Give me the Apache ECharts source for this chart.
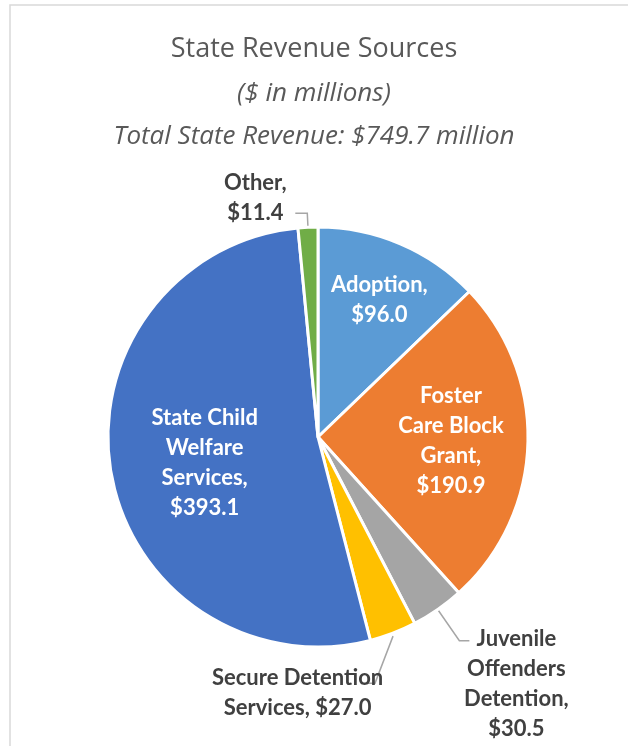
<!DOCTYPE html>
<html>
<head>
<meta charset="utf-8">
<script src="https://cdn.jsdelivr.net/npm/echarts@6/dist/echarts.min.js"></script>
<style>
html,body{margin:0;padding:0;background:#fff;}
#chart{width:628px;height:746px;}
</style>
</head>
<body>
<div id="chart"></div>
<script>
// Data
const categories = ['Adoption', 'Foster Care Block Grant', 'Juvenile Offenders Detention', 'Secure Detention Services', 'State Child Welfare Services', 'Other'];
const values = [96.0, 190.9, 30.5, 27.0, 393.1, 11.4];
const labelTexts = ['Adoption,\n$96.0', 'Foster\nCare Block\nGrant,\n$190.9', 'Juvenile\nOffenders\nDetention,\n$30.5', 'Secure Detention\nServices, $27.0', 'State Child\nWelfare\nServices,\n$393.1', 'Other,\n$11.4'];
const colors = ['#5B9BD5', '#ED7D31', '#A5A5A5', '#FFC000', '#4472C4', '#70AD47'];
const titleText = 'State Revenue Sources';
const subText1 = '($ in millions)';
const subText2 = 'Total State Revenue: $749.7 million';

const TFONT = 'Open Sans';
const LFONT = 'Lato';
const insideIdx = [0, 1, 4];
// label offsets (styling)
const labelAdjust = {
  0: {dx: 19, dy: -38},
  1: {dx: 25, dy: 0},
  4: {dx: -7, dy: 7},
  2: {dx: 42, dy: 43, align: 'center'},
  3: {dx: -124, dy: 24, align: 'center'},
  5: {dx: -35, dy: -15, align: 'center'}
};

const chart = echarts.init(document.getElementById('chart'), null, {renderer: 'canvas'});
const data = categories.map((c, i) => {
  const inside = insideIdx.indexOf(i) >= 0;
  const item = {
    name: c,
    value: values[i],
    itemStyle: {color: colors[i]},
    label: {
      position: inside ? 'inside' : 'outside',
      color: inside ? '#ffffff' : '#404040'
    }
  };
  if (!inside) {
    item.labelLine = {show: true, length: i === 5 ? 14 : 38, length2: i === 5 ? 12 : 10};
  }
  return item;
});

chart.setOption({
  animation: false,
  backgroundColor: '#ffffff',
  graphic: [{
    type: 'rect',
    shape: {x: 10, y: 5, width: 700, height: 800},
    style: {fill: 'none', stroke: '#d9d9d9', lineWidth: 1.5},
    silent: true,
    z: -1
  }],
  title: [
    {text: titleText, left: 'center', top: 31, textStyle: {fontFamily: TFONT, fontSize: 27, fontWeight: 'normal', color: '#595959'}},
    {text: subText1, left: 'center', top: 76, textStyle: {fontFamily: TFONT, fontSize: 26, fontWeight: 'normal', fontStyle: 'italic', color: '#595959'}},
    {text: subText2, left: 'center', top: 119, textStyle: {fontFamily: TFONT, fontSize: 26, fontWeight: 'normal', fontStyle: 'italic', color: '#595959'}}
  ],
  series: [{
    type: 'pie',
    center: [318, 437],
    radius: 210,
    startAngle: 90,
    clockwise: true,
    avoidLabelOverlap: false,
    itemStyle: {borderColor: '#ffffff', borderWidth: 3},
    label: {
      show: true,
      fontFamily: LFONT,
      fontSize: 22,
      fontWeight: 'bold',
      lineHeight: 30,
      align: 'center',
      formatter: p => labelTexts[p.dataIndex]
    },
    labelLine: {lineStyle: {color: '#a6a6a6', width: 1.5}},
    labelLayout: function (params) {
      const a = Object.assign({}, labelAdjust[params.dataIndex] || {});
      if (params.dataIndex === 3 && params.labelLinePoints) {
        const p0 = params.labelLinePoints[0];
        a.labelLinePoints = [
          [p0[0], p0[1] + 3],
          [p0[0] - 18, p0[1] + 50],
          [p0[0] - 31, p0[1] + 50]
        ];
      }
      return a;
    },
    data: data
  }]
});
</script>
</body>
</html>
